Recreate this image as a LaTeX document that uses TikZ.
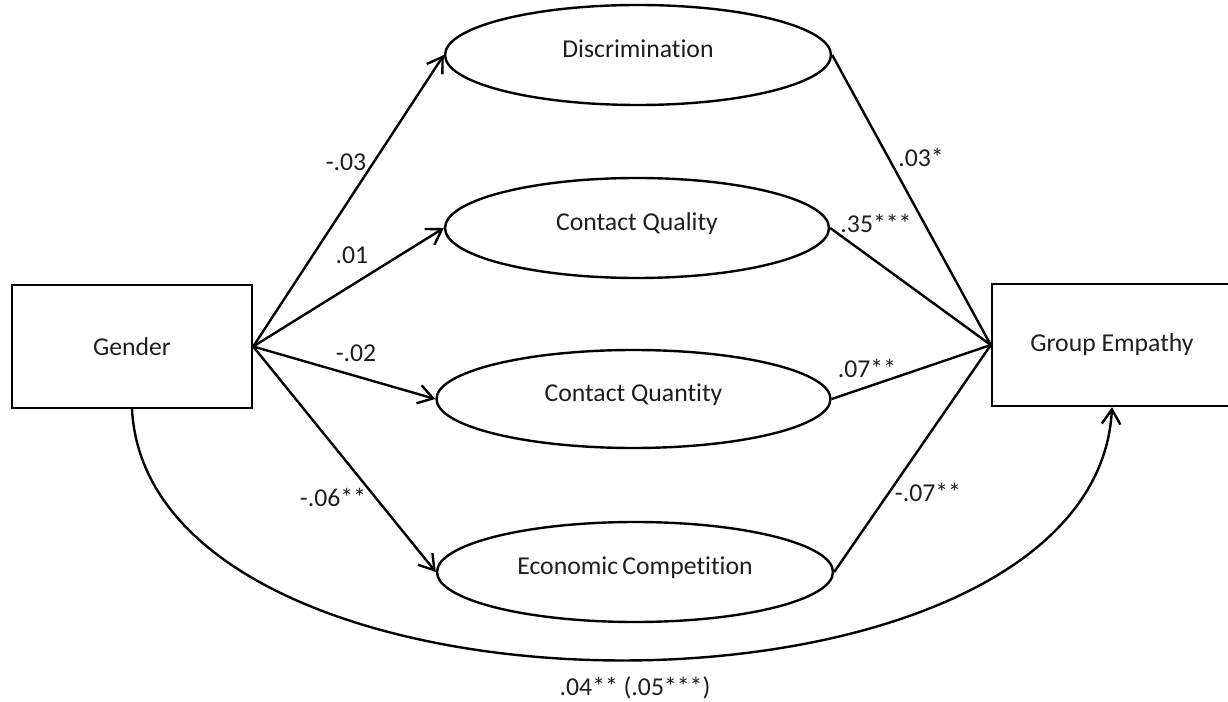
\documentclass[tikz,border=0pt]{standalone}
\usepackage{fontspec}
\setmainfont{Carlito}[Ligatures={NoCommon}]
\usetikzlibrary{shapes.geometric,arrows.meta}
\definecolor{txt}{RGB}{30,30,30}
\newcommand\figfont{\fontsize{19.3pt}{23pt}\selectfont}
\begin{document}
\begin{tikzpicture}[x=0.75pt,y=-0.75pt,line width=1.8pt,
  box/.style={draw,rectangle,inner sep=0pt,text=txt,font=\figfont},
  ell/.style={draw,ellipse,inner sep=0pt,text=txt,font=\figfont,text height=14pt,text depth=10pt},
  lab/.style={text=txt,font=\figfont,inner sep=1pt},
  arr/.style={-{Straight Barb[length=11pt,width=14pt]}}]
\useasboundingbox (0,0) rectangle (1228,702);
\clip (0,0) rectangle (1228,702);
\node[box,minimum width=180pt,minimum height=92.25pt] (g) at (132,346.5) {Gender};
\node[box,minimum width=180pt,minimum height=91.5pt] (e) at (1112,345) {Group Empathy};
\node[ell,minimum width=289.5pt,minimum height=75pt] (d) at (638,55) {Discrimination};
\node[ell,minimum width=288pt,minimum height=75pt] (cq) at (637,228) {Contact Quality};
\node[ell,minimum width=295.5pt,minimum height=73.5pt] (cn) at (633.5,399) {Contact Quantity};
\node[ell,minimum width=297pt,minimum height=75pt] (ec) at (635,572) {Economic\,Competition};
\draw[arr] (g.east) -- (d.west);
\draw[arr] (g.east) -- (cq.west);
\draw[arr] (g.east) -- (cn.west);
\draw[arr] (g.east) -- (ec.west);
\draw (d.east) -- (e.west);
\draw (cq.east) -- (e.west);
\draw (cn.east) -- (e.west);
\draw (ec.east) -- (e.west);
\draw[arr] (g.south) .. controls (150,744) and (1094,744) .. (e.south);
\node[lab] (l1) at (346,162) {-.03};
\node[lab] (l2) at (352,255) {.01};
\node[lab] (l3) at (356,353) {-.02};
\node[lab] (l4) at (333,497) {-.06**};
\node[lab] (l5) at (921,157) {.03*};
\node[lab] (l6) at (876,223) {.35***};
\node[lab] (l7) at (867,368) {.07**};
\node[lab] (l8) at (928,492) {-.07**};
\node[lab] (l9) at (635,688) {.04** (.05***)};
\end{tikzpicture}
\end{document}
